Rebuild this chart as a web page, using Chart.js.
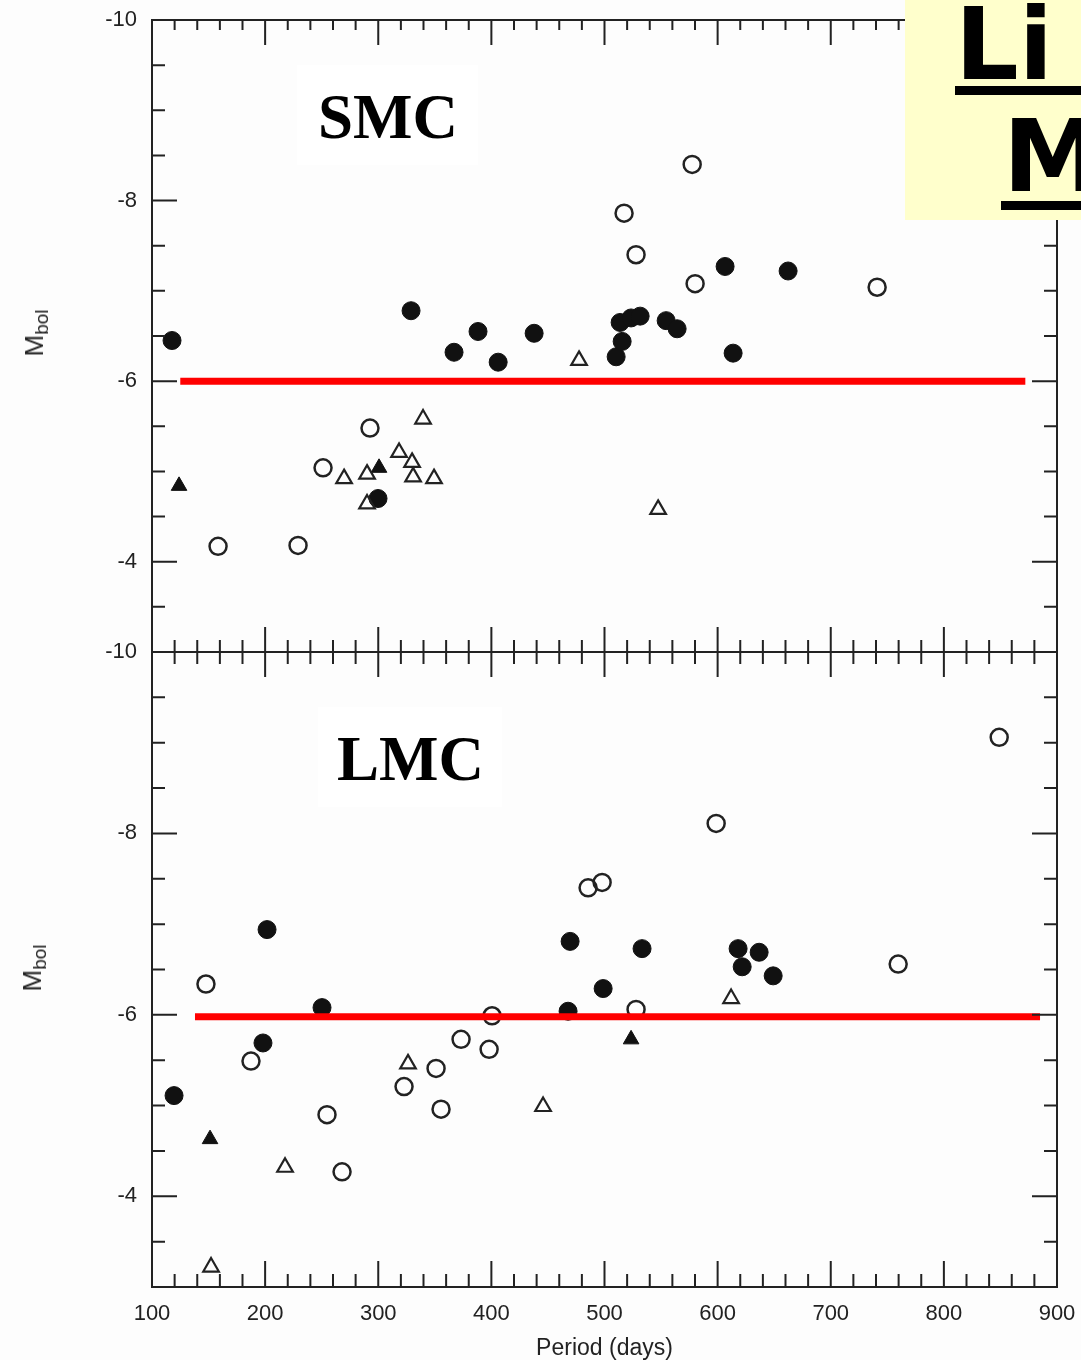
<!DOCTYPE html>
<html>
<head>
<meta charset="utf-8">
<script src="https://cdn.jsdelivr.net/npm/chart.js@4/dist/chart.umd.min.js"></script>
<style>
  html, body { margin: 0; padding: 0; }
  body { width: 1081px; height: 1360px; position: relative; overflow: hidden; background: #fdfdfd; font-family: "Liberation Sans", Arial, sans-serif; }
  canvas { position: absolute; left: 0; }
  #topCanvas { top: 0; }
  #bottomCanvas { top: 630px; }
  .cloud { position: absolute; background: #fff; font-family: "Liberation Serif", "Times New Roman", serif; font-weight: bold; font-size: 63px; line-height: 63px; color: #000; box-sizing: border-box; }
  .mbol { position: absolute; transform: translate(-50%, -50%) rotate(-90deg); white-space: nowrap; color: #222; font-size: 26px; }
  .mbol sub { font-size: 19px; vertical-align: -5px; }
  .note { position: absolute; left: 905px; top: 0; width: 190px; height: 220px; background: #ffffcc; }
  .noteText { position: absolute; white-space: nowrap; font-family: "Comic Sans MS", "DejaVu Sans", sans-serif; font-weight: bold; font-size: 100px; line-height: 100px; color: #000; }
  .noteLine { position: absolute; height: 9px; background: #000; }
</style>
</head>
<body>
<canvas id="topCanvas" width="1081" height="660"></canvas>
<canvas id="bottomCanvas" width="1081" height="730"></canvas>

<div class="cloud" style="left:297px; top:65px; width:181px; height:100px; padding:21px 0 0 21px;">SMC</div>
<div class="cloud" style="left:318px; top:707px; width:184px; height:100px; padding:21px 0 0 19px;">LMC</div>

<div class="mbol" style="left:36px; top:333px;">M<sub>bol</sub></div>
<div class="mbol" style="left:34px; top:968px;">M<sub>bol</sub></div>

<div class="note"></div>
<div class="noteText" style="left:955px; top:-5px;">Li rich</div>
<div class="noteLine" style="left:955px; top:86px; width:126px;"></div>
<div class="noteText" style="left:1003px; top:107px;">Mbol</div>
<div class="noteLine" style="left:1001px; top:201px; width:80px;"></div>

<script>
// axis setup
const xMin = 100, xMax = 900, xMinorStep = 20;
const yMin = -10, yMax = -3, yMinorStep = 0.5;
const xTickValues = [100, 200, 300, 400, 500, 600, 700, 800, 900];
const yTickValues = [-10, -8, -6, -4];
const axisColour = '#222';

// SMC (top panel) - [period, Mbol]
const smcFilledCircles = [
  [117.7, -6.45], [329, -6.78], [367, -6.32], [388.2, -6.55], [406, -6.21], [437.8, -6.53],
  [510.3, -6.27], [513.8, -6.65], [515.6, -6.44], [523.5, -6.70], [531.5, -6.72],
  [554.5, -6.67], [564.2, -6.58], [606.6, -7.27], [613.7, -6.31], [662.3, -7.22], [299.8, -4.70]
];
const smcOpenCircles = [
  [577.5, -8.40], [517.3, -7.86], [527.9, -7.40], [580.1, -7.08], [741.0, -7.04],
  [158.4, -4.17], [229.1, -4.18], [251.2, -5.04], [292.7, -5.48]
];
const smcFilledTriangles = [[123.9, -4.84], [300.7, -5.04]];
const smcOpenTriangles = [
  [269.8, -4.92], [290.1, -4.97], [290.1, -4.64], [318.4, -5.21], [329.9, -5.10],
  [330.8, -4.94], [339.6, -5.58], [349.3, -4.92], [477.5, -6.23], [547.4, -4.58]
];
const smcLimitLine = [[125, -6.0], [872, -6.0]];

// LMC (bottom panel)
const lmcFilledCircles = [
  [201.7, -6.94], [250.3, -6.08], [198.1, -5.69], [119.5, -5.11], [469.6, -6.81], [533.2, -6.73],
  [618.1, -6.73], [636.7, -6.69], [621.7, -6.53], [649.1, -6.43], [498.8, -6.29], [467.8, -6.04]
];
const lmcOpenCircles = [
  [147.7, -6.34], [187.5, -5.49], [254.7, -4.90], [268.0, -4.27], [322.8, -5.21], [351.1, -5.41],
  [355.5, -4.96], [373.2, -5.73], [398.0, -5.62], [400.6, -5.99], [485.5, -7.40], [497.9, -7.46],
  [527.9, -6.06], [598.7, -8.11], [759.6, -6.56], [848.9, -9.06]
];
const lmcFilledTriangles = [[151.3, -4.63], [523.5, -5.73]];
const lmcOpenTriangles = [[217.6, -4.32], [326.3, -5.46], [445.7, -4.99], [152.2, -3.22], [611.9, -6.18]];
const lmcLimitLine = [[138, -5.98], [885, -5.98]];

const styles = {
  filledCircle: { pointStyle: 'circle', pointRadius: 9, backgroundColor: '#111', borderColor: '#111', borderWidth: 1 },
  openCircle: { pointStyle: 'circle', pointRadius: 8.5, backgroundColor: 'rgba(0,0,0,0)', borderColor: '#222', borderWidth: 2.5 },
  filledTriangle: { pointStyle: 'triangle', pointRadius: 9, backgroundColor: '#111', borderColor: '#111', borderWidth: 1 },
  openTriangle: { pointStyle: 'triangle', pointRadius: 9, backgroundColor: 'rgba(0,0,0,0)', borderColor: '#222', borderWidth: 2.2 }
};

function toPoints(list) {
  return list.map(p => ({ x: p[0], y: p[1] }));
}
function pointSet(list, style) {
  return Object.assign({ data: toPoints(list), order: 1 }, style);
}
function limitSet(list) {
  return {
    type: 'line', data: toPoints(list), borderColor: '#ff0000', borderWidth: 7,
    borderCapStyle: 'butt', pointRadius: 0, showLine: true, order: 0
  };
}
function noPadding(s) {
  s.paddingLeft = 0; s.paddingRight = 0; s.paddingTop = 0; s.paddingBottom = 0;
}

//draws the box plus inward ticks on all sides
const frameTicks = {
  id: 'frameTicks',
  afterDraw(chart, args, o) {
    const ctx = chart.ctx;
    const a = chart.chartArea;
    const x = chart.scales.x, y = chart.scales.y;
    ctx.save();
    ctx.strokeStyle = axisColour;
    ctx.lineWidth = 2;
    ctx.strokeRect(a.left, a.top, a.right - a.left, a.bottom - a.top);
    ctx.beginPath();
    for (let v = xMin + xMinorStep; v < xMax; v += xMinorStep) {
      const px = x.getPixelForValue(v);
      const major = v % 100 === 0;
      const t = major ? o.topMajor : o.topMinor;
      const b = major ? o.bottomMajor : o.bottomMinor;
      ctx.moveTo(px, a.top); ctx.lineTo(px, a.top + t);
      ctx.moveTo(px, a.bottom); ctx.lineTo(px, a.bottom - b);
    }
    for (let v = yMin + yMinorStep; v < yMax; v += yMinorStep) {
      const py = y.getPixelForValue(v);
      const len = v % 2 === 0 ? o.sideMajor : o.sideMinor;
      ctx.moveTo(a.left, py); ctx.lineTo(a.left + len, py);
      ctx.moveTo(a.right, py); ctx.lineTo(a.right - len, py);
    }
    ctx.stroke();
    ctx.restore();
  }
};

function makeConfig(sets, showX, padding, ticks) {
  return {
    type: 'scatter',
    data: { datasets: sets },
    plugins: [frameTicks],
    options: {
      responsive: false,
      animation: false,
      events: [],
      layout: { padding: padding, autoPadding: false },
      plugins: {
        legend: { display: false },
        tooltip: { enabled: false },
        frameTicks: ticks
      },
      scales: {
        x: {
          type: 'linear', min: xMin, max: xMax, display: showX,
          afterBuildTicks: s => { s.ticks = xTickValues.map(v => ({ value: v })); },
          afterFit: s => { s.height = showX ? 73 : 0; noPadding(s); },
          grid: { display: false, drawTicks: false },
          border: { display: false },
          ticks: { padding: 14, color: axisColour, maxRotation: 0, autoSkip: false, font: { family: 'Liberation Sans', size: 22 } },
          title: { display: true, text: 'Period (days)', color: axisColour, padding: { top: 0, bottom: 0 }, font: { family: 'Liberation Sans', size: 23, lineHeight: 1 } }
        },
        y: {
          type: 'linear', min: yMin, max: yMax, reverse: true,
          afterBuildTicks: s => { s.ticks = yTickValues.map(v => ({ value: v })); },
          afterFit: s => { s.width = 152; noPadding(s); },
          grid: { display: false, drawTicks: false },
          border: { display: false },
          ticks: { padding: 15, color: axisColour, font: { family: 'Liberation Sans', size: 22 } }
        }
      }
    }
  };
}

const topSets = [
  pointSet(smcOpenCircles, styles.openCircle),
  pointSet(smcOpenTriangles, styles.openTriangle),
  pointSet(smcFilledTriangles, styles.filledTriangle),
  pointSet(smcFilledCircles, styles.filledCircle),
  limitSet(smcLimitLine)
];
const bottomSets = [
  pointSet(lmcOpenCircles, styles.openCircle),
  pointSet(lmcOpenTriangles, styles.openTriangle),
  pointSet(lmcFilledTriangles, styles.filledTriangle),
  pointSet(lmcFilledCircles, styles.filledCircle),
  limitSet(lmcLimitLine)
];

new Chart(document.getElementById('topCanvas'), makeConfig(topSets, false,
  { top: 20, right: 24, bottom: 8, left: 0 },
  { topMajor: 25, topMinor: 10, bottomMajor: 25, bottomMinor: 12, sideMajor: 25, sideMinor: 13 }));

new Chart(document.getElementById('bottomCanvas'), makeConfig(bottomSets, true,
  { top: 22, right: 24, bottom: 0, left: 0 },
  { topMajor: 25, topMinor: 12, bottomMajor: 26, bottomMinor: 13, sideMajor: 25, sideMinor: 13 }));
</script>
</body>
</html>
